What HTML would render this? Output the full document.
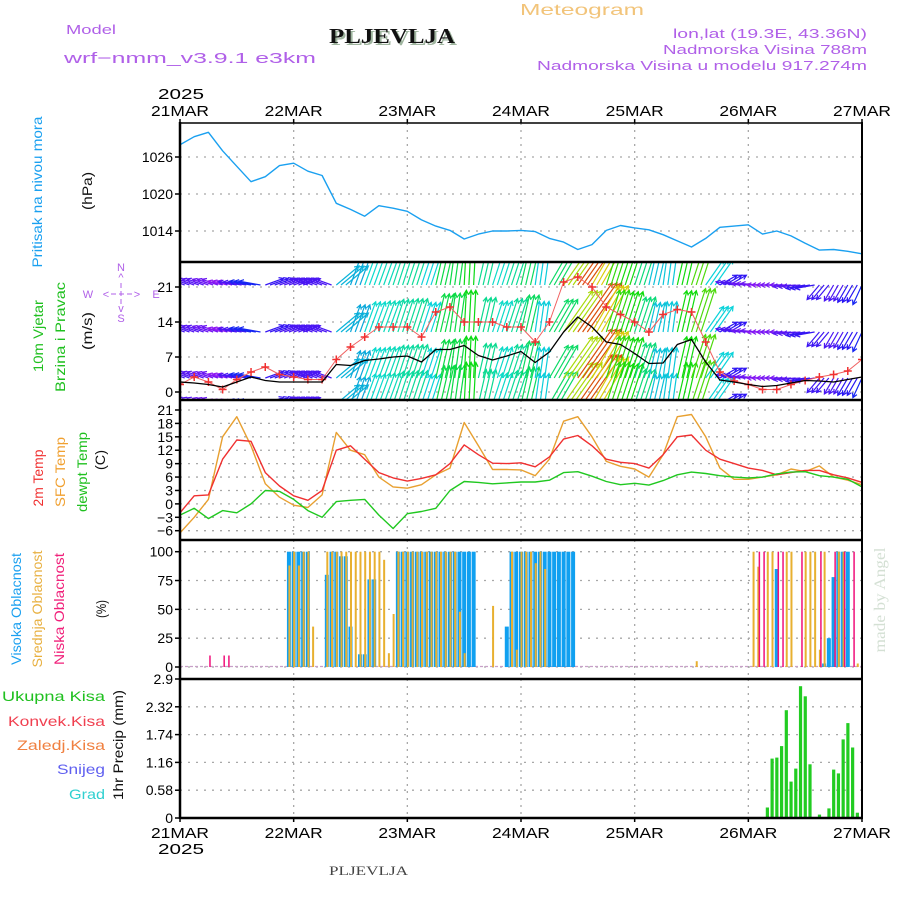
<!DOCTYPE html>
<html><head><meta charset="utf-8"><title>Meteogram PLJEVLJA</title>
<style>
html,body{margin:0;padding:0;background:#fff;}
svg{display:block;font-family:"Liberation Sans",sans-serif;}
</style></head>
<body>
<svg id="chart" xmlns="http://www.w3.org/2000/svg" width="900" height="900" viewBox="0 0 900 900">
<rect x="0" y="0" width="900" height="900" fill="#fff"/>
<defs>
<clipPath id="cp-press"><rect x="181" y="123" width="681" height="137"/></clipPath>
<clipPath id="cp-wind"><rect x="181" y="263" width="681" height="136"/></clipPath>
<clipPath id="cp-temp"><rect x="181" y="401" width="681" height="138"/></clipPath>
<clipPath id="cp-cloud"><rect x="181" y="541" width="681" height="137"/></clipPath>
<clipPath id="cp-precip"><rect x="181" y="680" width="681" height="138"/></clipPath>
</defs>

<text x="66" y="34" font-size="13" fill="#b060e8" textLength="50" lengthAdjust="spacingAndGlyphs">Model</text>
<text x="64" y="63" font-size="15" fill="#b060e8" textLength="252" lengthAdjust="spacingAndGlyphs">wrf−nmm_v3.9.1 e3km</text>
<text x="331" y="45" font-family="Liberation Serif,serif" font-weight="bold" font-size="21" fill="#9fb59f" textLength="126" lengthAdjust="spacingAndGlyphs">PLJEVLJA</text>
<text x="329" y="43" font-family="Liberation Serif,serif" font-weight="bold" font-size="21" fill="#111" textLength="126" lengthAdjust="spacingAndGlyphs">PLJEVLJA</text>
<text x="520" y="15" font-size="16" fill="#f2c47a" textLength="124" lengthAdjust="spacingAndGlyphs">Meteogram</text>
<text x="673" y="38" font-size="13" fill="#b060e8" textLength="194" lengthAdjust="spacingAndGlyphs">lon,lat (19.3E, 43.36N)</text>
<text x="663" y="54" font-size="13" fill="#b060e8" textLength="204" lengthAdjust="spacingAndGlyphs">Nadmorska Visina 788m</text>
<text x="537" y="70" font-size="13" fill="#b060e8" textLength="330" lengthAdjust="spacingAndGlyphs">Nadmorska Visina u modelu 917.274m</text>
<text x="329" y="875" font-family="Liberation Serif,serif" font-size="13" fill="#444" textLength="79" lengthAdjust="spacingAndGlyphs">PLJEVLJA</text>
<text transform="translate(885,600) rotate(-90)" text-anchor="middle" font-family="Liberation Serif,serif" font-size="16" fill="#d4e0d4" textLength="105" lengthAdjust="spacingAndGlyphs">made by Angel</text>

<g font-size="14">
<text transform="translate(42,192) rotate(-90)" text-anchor="middle" fill="#1aa0f0" textLength="151" lengthAdjust="spacingAndGlyphs">Pritisak na nivou mora</text>
<text transform="translate(92,191) rotate(-90)" text-anchor="middle" fill="#111" textLength="38" lengthAdjust="spacingAndGlyphs">(hPa)</text>
<text transform="translate(43,336) rotate(-90)" text-anchor="middle" fill="#20c020" textLength="72" lengthAdjust="spacingAndGlyphs">10m Vjetar</text>
<text transform="translate(65,337) rotate(-90)" text-anchor="middle" fill="#20c020" textLength="110" lengthAdjust="spacingAndGlyphs">Brzina i Pravac</text>
<text transform="translate(92,331) rotate(-90)" text-anchor="middle" fill="#111" textLength="38" lengthAdjust="spacingAndGlyphs">(m/s)</text>
<text transform="translate(43,478) rotate(-90)" text-anchor="middle" fill="#f03030" textLength="57" lengthAdjust="spacingAndGlyphs">2m Temp</text>
<text transform="translate(65,472) rotate(-90)" text-anchor="middle" fill="#f0a030" textLength="70" lengthAdjust="spacingAndGlyphs">SFC Temp</text>
<text transform="translate(87,472) rotate(-90)" text-anchor="middle" fill="#20c020" textLength="80" lengthAdjust="spacingAndGlyphs">dewpt Temp</text>
<text transform="translate(105,460) rotate(-90)" text-anchor="middle" fill="#111" textLength="20" lengthAdjust="spacingAndGlyphs">(C)</text>
<text transform="translate(21,609) rotate(-90)" text-anchor="middle" fill="#1aa0f0" textLength="112" lengthAdjust="spacingAndGlyphs">Visoka Oblacnost</text>
<text transform="translate(42,609) rotate(-90)" text-anchor="middle" fill="#e8b040" textLength="117" lengthAdjust="spacingAndGlyphs">Srednja Oblacnost</text>
<text transform="translate(64,609) rotate(-90)" text-anchor="middle" fill="#f0207a" textLength="112" lengthAdjust="spacingAndGlyphs">Niska Oblacnost</text>
<text transform="translate(106,609) rotate(-90)" text-anchor="middle" fill="#111" textLength="18" lengthAdjust="spacingAndGlyphs">(%)</text>
<text transform="translate(123,745) rotate(-90)" text-anchor="middle" fill="#111" textLength="110" lengthAdjust="spacingAndGlyphs">1hr Precip (mm)</text>
</g>
<g font-size="14" text-anchor="end">
<text x="105" y="701" fill="#20c020" textLength="103" lengthAdjust="spacingAndGlyphs">Ukupna  Kisa</text>
<text x="105" y="726" fill="#f04050" textLength="97" lengthAdjust="spacingAndGlyphs">Konvek.Kisa</text>
<text x="105" y="750" fill="#f08040" textLength="88" lengthAdjust="spacingAndGlyphs">Zaledj.Kisa</text>
<text x="105" y="774" fill="#6060f0" textLength="48" lengthAdjust="spacingAndGlyphs">Snijeg</text>
<text x="105" y="799" fill="#30d0d0" textLength="36" lengthAdjust="spacingAndGlyphs">Grad</text>
</g>
<g font-size="11" fill="#b060e8" text-anchor="middle">
<text x="121" y="271">N</text>
<text x="121" y="281">^</text>
<text x="121" y="312">v</text>
<text x="121" y="322">S</text>
<text x="88" y="298">W</text>
<text x="156" y="298">E</text>
<text x="106" y="298">&lt;</text>
<text x="137" y="298">&gt;</text>
<line x1="111" y1="294" x2="132" y2="294" stroke="#b060e8" stroke-width="1" stroke-dasharray="5,3"/>
<line x1="121" y1="283" x2="121" y2="305" stroke="#b060e8" stroke-width="1" stroke-dasharray="5,3"/>
</g>

<g id="grid"></g>
<g id="marks"></g>
<g id="axes"></g>
</svg>

<script>
const dayLabels = ["21MAR","22MAR","23MAR","24MAR","25MAR","26MAR","27MAR"];
const yearLabel = "2025";
const pressureTicks = [1014, 1020, 1026];
const pressure = [1028,1029.3,1030,1027,1024.5,1022,1022.8,1024.6,1025,1023.7,1023,1018.5,1017.5,1016.4,1018.1,1017.7,1017.2,1015.8,1014.8,1014.1,1012.7,1013.5,1014,1014,1014.1,1013.9,1012.8,1012.2,1011,1011.8,1014.1,1014.9,1014.5,1014.2,1013.4,1012.4,1011.4,1012.8,1014.6,1014.8,1015,1013.5,1014,1013.2,1012,1010.9,1011,1010.7,1010.3];
const windTicks = [0, 7, 14, 21];
const windSpeed = [2,1.8,1.5,1,2,3,2.3,2,2,2,2,5.5,5.3,6.3,6.6,7,7.2,6,8.5,8.5,9.3,7.3,6.4,7.2,8.1,5.9,8,12,15,13,10,9.5,7.7,5.7,5.8,9.5,10.5,6,2.4,2,1.5,1.1,1.3,1.8,2.3,2.2,2,2.5,3];
const windGust = [1.5,3,2,0.5,2.5,4,5,3.5,3,2.5,2.5,6.5,9,11,13,13,13,11,16,17,14,14,14,13,13,10,14,22,23,21,17,15.5,14,12,15.5,16.5,16,10,4,2.2,1.5,0.5,0.5,1.5,2.3,3,3.5,4.2,6.5];
const windFrom = [110,110,110,105,100,100,250,250,250,110,110,230,200,200,200,198,198,198,193,188,183,193,198,198,193,188,210,215,215,210,198,198,198,193,188,193,198,215,240,100,95,90,90,85,80,40,30,30,25];
const tempTicks = [-6,-3,0,3,6,9,12,15,18,21];
const temp2m = [-2,1.8,2,10,14.3,14,7,4,1.8,0.8,3,12,13,10,7,5.8,5.1,5.7,6.5,9,13.2,11,9.1,9,9.2,8.3,10.5,14.5,15.3,13,10,9.3,9,8,11,15,15.4,12,10,9,8,7.5,6.5,7,7.5,7.5,6.5,5.8,4.8];
const tempSfc = [-6.5,-3,1,15,19.5,13,4.5,1.5,-0.3,-0.8,2,16,12,11,6,3.8,3.5,4.3,6.5,8,18.2,13,7.7,7.7,7.6,6.3,10,18.5,19.5,15,9.5,8.4,7.8,6,11,19.5,20,15,8,5.5,5.5,6,6.5,7.8,7.2,8.5,6,5.3,4.3];
const tempDew = [-2.5,-1,-3.3,-1.5,-2,0,3,2.8,1,-1.5,-3,0.5,0.8,1,-2.5,-5.5,-2.2,-1.7,-1,3,5,4.8,4.5,4.7,4.9,4.9,5.3,7,7.2,6.2,5,4.3,4.6,4.2,5.2,6.5,7.1,6.8,6.3,6,5.8,6,6.7,7.1,7.2,6.3,6,5.5,3.8];
const cloudTicks = [0,25,50,75,100];
const cloudHigh = [
0,0,0,0,0,0,0,0,0,0,0,0,0,0,0,0,0,0,0,0,0,0,0,100,
100,100,100,100,0,0,0,80,100,100,96,96,35,0,11,11,76,76,0,0,0,0,100,100,
100,100,100,100,100,100,100,100,100,100,100,100,100,100,100,0,0,0,0,0,0,35,100,100,
100,100,100,100,100,100,100,100,100,100,100,100,0,0,0,0,0,0,0,0,0,0,0,0,
0,0,0,0,0,0,0,0,0,0,0,0,0,0,0,0,0,0,0,0,0,0,0,0,
0,0,0,0,0,0,85,0,0,0,0,0,0,0,0,0,3,25,78,100,100,100,0,0,
0];
const cloudMid = [
0,0,0,0,0,0,0,0,0,0,0,0,0,0,0,0,0,0,0,0,0,0,0,88,
100,88,100,100,35,0,0,100,100,100,100,100,100,100,100,100,100,100,100,93,12,46,100,100,
100,100,100,100,100,100,100,100,100,100,100,48,12,0,0,0,0,0,53,0,0,0,100,15,
100,100,100,90,100,85,0,0,0,0,0,0,0,0,0,0,0,0,0,0,0,0,0,0,
0,0,0,0,0,0,0,0,0,0,0,0,0,5,0,0,0,0,0,0,0,0,0,0,
0,100,87,0,100,100,0,0,100,100,0,0,100,100,100,15,100,0,0,100,100,0,0,3,
0];
const cloudLow = [
0,0,0,0,0,0,10,0,0,10,10,0,0,0,0,0,0,0,0,0,0,0,0,0,
0,0,0,0,0,0,0,0,0,0,0,0,0,0,0,0,0,0,0,0,0,0,0,0,
0,0,0,0,0,0,0,0,0,0,0,0,0,0,0,0,0,0,0,0,0,0,0,0,
0,0,0,0,0,0,0,0,0,0,0,0,0,0,0,0,0,0,0,0,0,0,0,0,
0,0,0,0,0,0,0,0,0,0,0,0,0,0,0,0,0,0,0,0,0,0,0,0,
0,0,100,100,0,0,100,100,0,0,0,100,0,0,0,100,0,0,100,0,100,0,100,0,
0];
const precipTicks = ["0","0.58","1.16","1.74","2.32","2.9"];
const precipHours = [124,125,126,127,128,129,130,131,132,133,134,135,136,137,138,139,140,141,142,143];
const precipTotal = [0.22,1.24,1.26,1.5,2.25,0.76,1.03,2.75,2.54,1.12,0,0.07,0,0.2,1.01,0.93,1.64,1.98,1.47,0.11];

const NS = "http://www.w3.org/2000/svg";
const X0 = 180, X1 = 862, HOURS = 144;
function xh(h){ return X0 + h*(X1-X0)/HOURS; }
function yPress(p){ return 157 + (1026-p)*37/6; }
function yWind(v){ return 392 - v*5; }
function yTemp(t){ return 410 + (21-t)*120.7/27; }
function yCloud(c){ return 667 - c*1.153; }
function yPrecip(v){ return 818 - v*139/2.9; }
const panels = [
  {top:123, bot:260, ticks:pressureTicks, f:yPress, name:"pressure"},
  {top:262, bot:400, ticks:windTicks, f:yWind, name:"wind"},
  {top:400, bot:540, ticks:tempTicks, f:yTemp, name:"temp"},
  {top:540, bot:679, ticks:cloudTicks, f:yCloud, name:"cloud"},
  {top:679, bot:818, ticks:precipTicks, f:function(v){return yPrecip(parseFloat(v));}, name:"precip"}
];
function mk(tag, parent){ const e=document.createElementNS(NS, tag); parent.appendChild(e); return e; }
const grid = document.getElementById('grid');
const marks = document.getElementById('marks');
const axes = document.getElementById('axes');

panels.forEach(function(p){
  p.ticks.forEach(function(t){
    const y = p.f(t);
    const gl = mk('line', grid);
    
    
    gl.setAttribute('x1', X0); gl.setAttribute('x2', X1); gl.setAttribute('y1', y); gl.setAttribute('y2', y);
    gl.setAttribute('stroke', '#a8a8a8'); gl.setAttribute('stroke-width', '1.3'); gl.setAttribute('stroke-dasharray', '2,6');
    const tk = mk('line', axes);
    
    
    tk.setAttribute('x1', X0-5); tk.setAttribute('x2', X0); tk.setAttribute('y1', y); tk.setAttribute('y2', y);
    tk.setAttribute('stroke', '#000'); tk.setAttribute('stroke-width', '1.5');
    const lb = mk('text', axes);
    
    
    lb.setAttribute('x', X0-7); lb.setAttribute('y', y+5); lb.setAttribute('text-anchor', 'end');
    lb.setAttribute('font-size', '14'); lb.setAttribute('fill', '#000');
    lb.textContent = String(t).replace('-', '\u2212');
  });
  dayLabels.forEach(function(d, i){
    if(i===0 || i===dayLabels.length-1) return;
    const gl = mk('line', grid);
    
    
    gl.setAttribute('x1', xh(i*24)); gl.setAttribute('x2', xh(i*24)); gl.setAttribute('y1', p.top); gl.setAttribute('y2', p.bot);
    gl.setAttribute('stroke', '#a8a8a8'); gl.setAttribute('stroke-width', '1.3'); gl.setAttribute('stroke-dasharray', '2,5');
  });
});
dayLabels.forEach(function(d, i){
  [116, 838].forEach(function(yy, k){
    const t = mk('text', axes);
    
    
    t.setAttribute('x', xh(i*24)); t.setAttribute('y', yy); t.setAttribute('text-anchor', 'middle');
    t.setAttribute('font-size', '15'); t.setAttribute('fill', '#000');
    t.setAttribute('textLength', '58'); t.setAttribute('lengthAdjust', 'spacingAndGlyphs');
    t.textContent = d;
    const tk = mk('line', axes);
    
    
    const ty = k===0 ? 119 : 818;
    tk.setAttribute('x1', xh(i*24)); tk.setAttribute('x2', xh(i*24)); tk.setAttribute('y1', ty); tk.setAttribute('y2', ty+4);
    tk.setAttribute('stroke', '#000'); tk.setAttribute('stroke-width', '1.5');
  });
});
[[99,'top-year-label'],[854,'bottom-year-label']].forEach(function(a){
  const t = mk('text', axes);
  
  
  t.setAttribute('x', 181); t.setAttribute('y', a[0]); t.setAttribute('text-anchor', 'middle');
  t.setAttribute('font-size', '15'); t.setAttribute('fill', '#000');
  t.setAttribute('textLength', '46'); t.setAttribute('lengthAdjust', 'spacingAndGlyphs');
  t.textContent = yearLabel;
});

function poly(parent, vals, stepH, f, color, width, name, clip){
  const pts = vals.map(function(v, i){ return xh(i*stepH).toFixed(1)+','+f(v).toFixed(1); }).join(' ');
  const pl = mk('polyline', parent);
  
  
  pl.setAttribute('points', pts); pl.setAttribute('fill', 'none');
  pl.setAttribute('stroke', color); pl.setAttribute('stroke-width', width);
  pl.setAttribute('stroke-linejoin', 'round');
  if(clip) pl.setAttribute('clip-path', 'url(#'+clip+')');
  return pl;
}

poly(marks, pressure, 3, yPress, '#1aa0f0', 1.4, 'pressure-line', 'cp-press');

const windG = mk('g', marks);


windG.setAttribute('clip-path', 'url(#cp-wind)');
const rowBases = [285, 332, 378, 404];
function windColor(v){ const hue = Math.max(0, 290 - 18*v); return 'hsl('+hue+',90%,'+(hue>230?'52%':'45%')+')'; }
windFrom.forEach(function(dir, i){
  const spd = windSpeed[i];
  const to = (dir + 180) * Math.PI/180;
  const dx = Math.sin(to), dy = -Math.cos(to);
  const L = 12 + 3.2*spd;
  const col = windColor(spd);
  for(let k=0;k<3;k++){
    const h = i*3 + k;
    if(h > HOURS) break;
    rowBases.forEach(function(by){
      const x0 = xh(h), y0 = by;
      const x1 = x0 + dx*L, y1 = y0 + dy*L;
      const a = mk('path', windG);
      
      
      const ang = Math.atan2(y1-y0, x1-x0);
      const hx1 = x1 - 5*Math.cos(ang-0.5), hy1 = y1 - 5*Math.sin(ang-0.5);
      const hx2 = x1 - 5*Math.cos(ang+0.5), hy2 = y1 - 5*Math.sin(ang+0.5);
      a.setAttribute('d', 'M'+x0.toFixed(1)+','+y0.toFixed(1)+'L'+x1.toFixed(1)+','+y1.toFixed(1)+'M'+hx1.toFixed(1)+','+hy1.toFixed(1)+'L'+x1.toFixed(1)+','+y1.toFixed(1)+'L'+hx2.toFixed(1)+','+hy2.toFixed(1));
      a.setAttribute('stroke', col); a.setAttribute('stroke-width', '1.2'); a.setAttribute('fill', 'none');
    });
  }
});
poly(marks, windGust, 3, yWind, '#f06060', 1, 'wind-gust-line', 'cp-wind');
const gustG = mk('g', marks);


gustG.setAttribute('clip-path', 'url(#cp-wind)');
windGust.forEach(function(v, i){
  const x = xh(i*3), y = yWind(v);
  const m = mk('path', gustG);
  
  
  m.setAttribute('d', 'M'+(x-4)+','+y+'h8M'+x+','+(y-4)+'v8');
  m.setAttribute('stroke', '#f03030'); m.setAttribute('stroke-width', '1.5');
});
poly(marks, windSpeed, 3, yWind, '#000', 1.3, 'wind-speed-line', 'cp-wind');

poly(marks, tempSfc, 3, yTemp, '#e8a030', 1.4, 'sfc-temp-line', 'cp-temp');
poly(marks, temp2m, 3, yTemp, '#f03030', 1.4, '2m-temp-line', 'cp-temp');
poly(marks, tempDew, 3, yTemp, '#20c820', 1.4, 'dewpoint-line', 'cp-temp');

const cloudG = mk('g', marks);


cloudG.setAttribute('clip-path', 'url(#cp-cloud)');
const base = mk('line', cloudG);


base.setAttribute('x1', X0); base.setAttribute('x2', X1); base.setAttribute('y1', 666.5); base.setAttribute('y2', 666.5);
base.setAttribute('stroke', '#c8a0c8'); base.setAttribute('stroke-width', '1.3'); base.setAttribute('stroke-dasharray', '3,2');
function bars(vals, off, w, color, name){
  vals.forEach(function(v, h){
    if(!v) return;
    const r = mk('rect', cloudG);
    
    
    r.setAttribute('x', (xh(h)+off).toFixed(2)); r.setAttribute('width', w);
    r.setAttribute('y', yCloud(v).toFixed(1)); r.setAttribute('height', (667-yCloud(v)).toFixed(1));
    r.setAttribute('fill', color);
  });
}
bars(cloudHigh, -2, 4, '#10a0f0', 'high-cloud-bar');
bars(cloudMid, -0.5, 2, '#e8b030', 'mid-cloud-bar');
bars(cloudLow, 0.8, 1.5, '#f0107a', 'low-cloud-bar');

const prG = mk('g', marks);


prG.setAttribute('clip-path', 'url(#cp-precip)');
precipHours.forEach(function(h, i){
  const v = precipTotal[i];
  if(!v) return;
  const r = mk('rect', prG);
  
  
  r.setAttribute('x', (xh(h)-1.5).toFixed(2)); r.setAttribute('width', 3.2);
  r.setAttribute('y', yPrecip(v).toFixed(1)); r.setAttribute('height', (818-yPrecip(v)).toFixed(1));
  r.setAttribute('fill', '#22cc22');
});

[[123,1.5],[262,2.5],[400,2.5],[540,2.5],[679,2.5],[818,2.5]].forEach(function(a){
  const l = mk('line', axes);
  
  
  l.setAttribute('x1', X0); l.setAttribute('x2', X1); l.setAttribute('y1', a[0]); l.setAttribute('y2', a[0]);
  l.setAttribute('stroke', '#000'); l.setAttribute('stroke-width', a[1]);
});
[[X0,2.5],[X1,2]].forEach(function(a){
  const l = mk('line', axes);
  
  
  l.setAttribute('x1', a[0]); l.setAttribute('x2', a[0]); l.setAttribute('y1', 122); l.setAttribute('y2', 819);
  l.setAttribute('stroke', '#000'); l.setAttribute('stroke-width', a[1]);
});
</script>
</body></html>
